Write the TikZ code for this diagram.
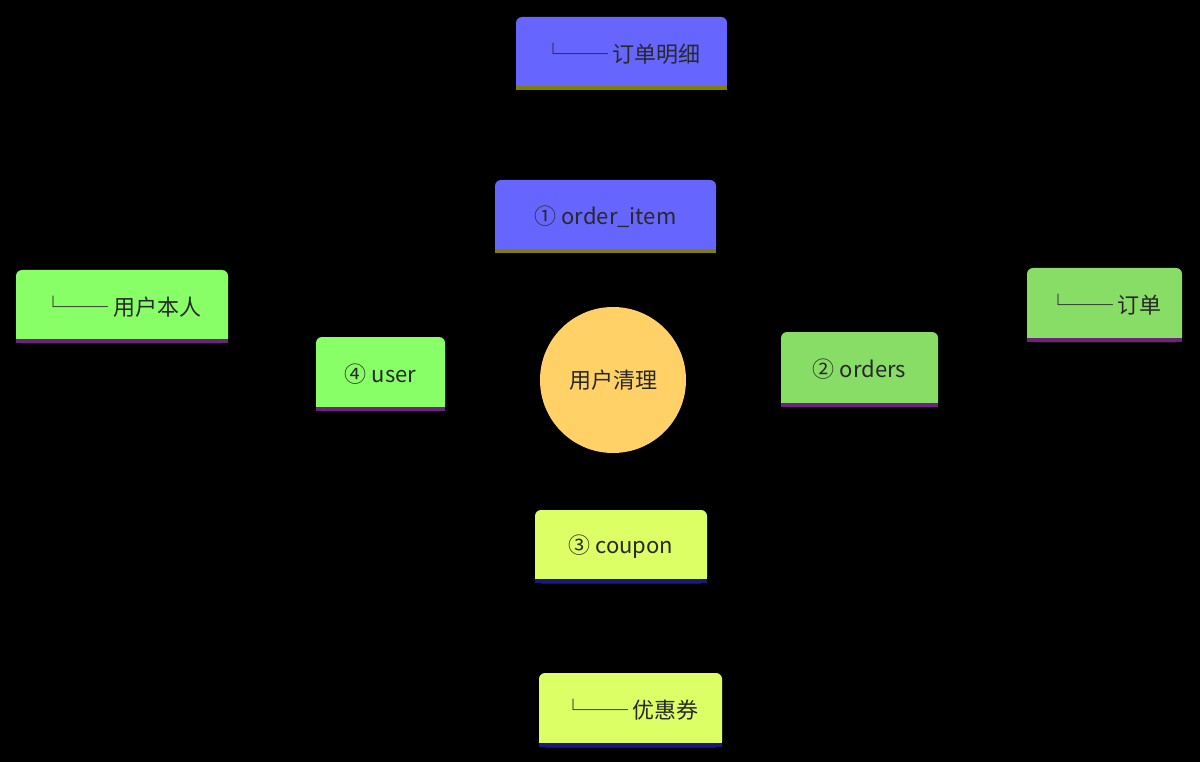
\documentclass[tikz,border=0pt]{standalone}
\usepackage{fontspec}
\setmainfont{Noto Sans CJK SC}
\usetikzlibrary{backgrounds}
\definecolor{rootc}{RGB}{255,209,102}
\definecolor{bluec}{RGB}{102,102,255}
\definecolor{oliv}{RGB}{128,128,0}
\definecolor{greenc}{RGB}{136,221,102}
\definecolor{limec}{RGB}{136,255,102}
\definecolor{purp}{RGB}{112,32,128}
\definecolor{yelc}{RGB}{221,255,102}
\definecolor{navyc}{RGB}{24,24,128}
\definecolor{txt}{RGB}{40,40,40}
\tikzset{
  box/.style={rectangle,rounded corners=6pt,inner sep=0pt,text=txt,font=\fontsize{22}{26}\selectfont},
  root/.style={circle,fill=rootc,minimum size=146pt,inner sep=0pt,text=txt,font=\fontsize{22}{26}\selectfont},
  edge1/.style={line width=20pt},
  edge2/.style={line width=14pt}
}
\begin{document}
\begin{tikzpicture}[x=1pt,y=-1pt]
\fill[black] (0,0) rectangle (1200,762);
\useasboundingbox (0,0) rectangle (1200,762);

\node[root] (clean) at (613,380) {用户清理};

\node[box,fill=bluec,minimum width=221pt,minimum height=73pt] (item) at (605.5,216.5) {① order\_item};
\node[box,fill=bluec,minimum width=211pt,minimum height=73pt] (itemL) at (621.5,53.5) {└── 订单明细};
\node[box,fill=greenc,minimum width=157pt,minimum height=75pt] (orders) at (859.5,369.5) {② orders};
\node[box,fill=greenc,minimum width=155pt,minimum height=74pt] (ordersL) at (1104.5,305) {└── 订单};
\node[box,fill=yelc,minimum width=172pt,minimum height=73pt] (coupon) at (621,546.5) {③ coupon};
\node[box,fill=yelc,minimum width=183pt,minimum height=74pt] (couponL) at (630.5,710) {└── 优惠券};
\node[box,fill=limec,minimum width=129pt,minimum height=74pt] (user) at (380.5,374) {④ user};
\node[box,fill=limec,minimum width=212pt,minimum height=73pt] (userL) at (122,306.5) {└── 用户本人};

% square bottoms and underlines
\foreach \n/\c/\u in {item/bluec/oliv,itemL/bluec/oliv,orders/greenc/purp,ordersL/greenc/purp,
    coupon/yelc/navyc,couponL/yelc/navyc,user/limec/purp,userL/limec/purp}{
  \fill[\c] (\n.south west) rectangle ([yshift=8pt]\n.south east);
  \fill[\u] (\n.south west) rectangle ([yshift=4pt]\n.south east);
}

\begin{pgfonlayer}{background}
\draw[edge1,bluec] (clean) -- (item);
\draw[edge2,bluec] (item) -- (itemL);
\draw[edge1,greenc] (clean) -- (orders);
\draw[edge2,greenc] (orders) -- (ordersL);
\draw[edge1,yelc] (clean) -- (coupon);
\draw[edge2,yelc] (coupon) -- (couponL);
\draw[edge1,limec] (clean) -- (user);
\draw[edge2,limec] (user) -- (userL);
\end{pgfonlayer}
\end{tikzpicture}
\end{document}
